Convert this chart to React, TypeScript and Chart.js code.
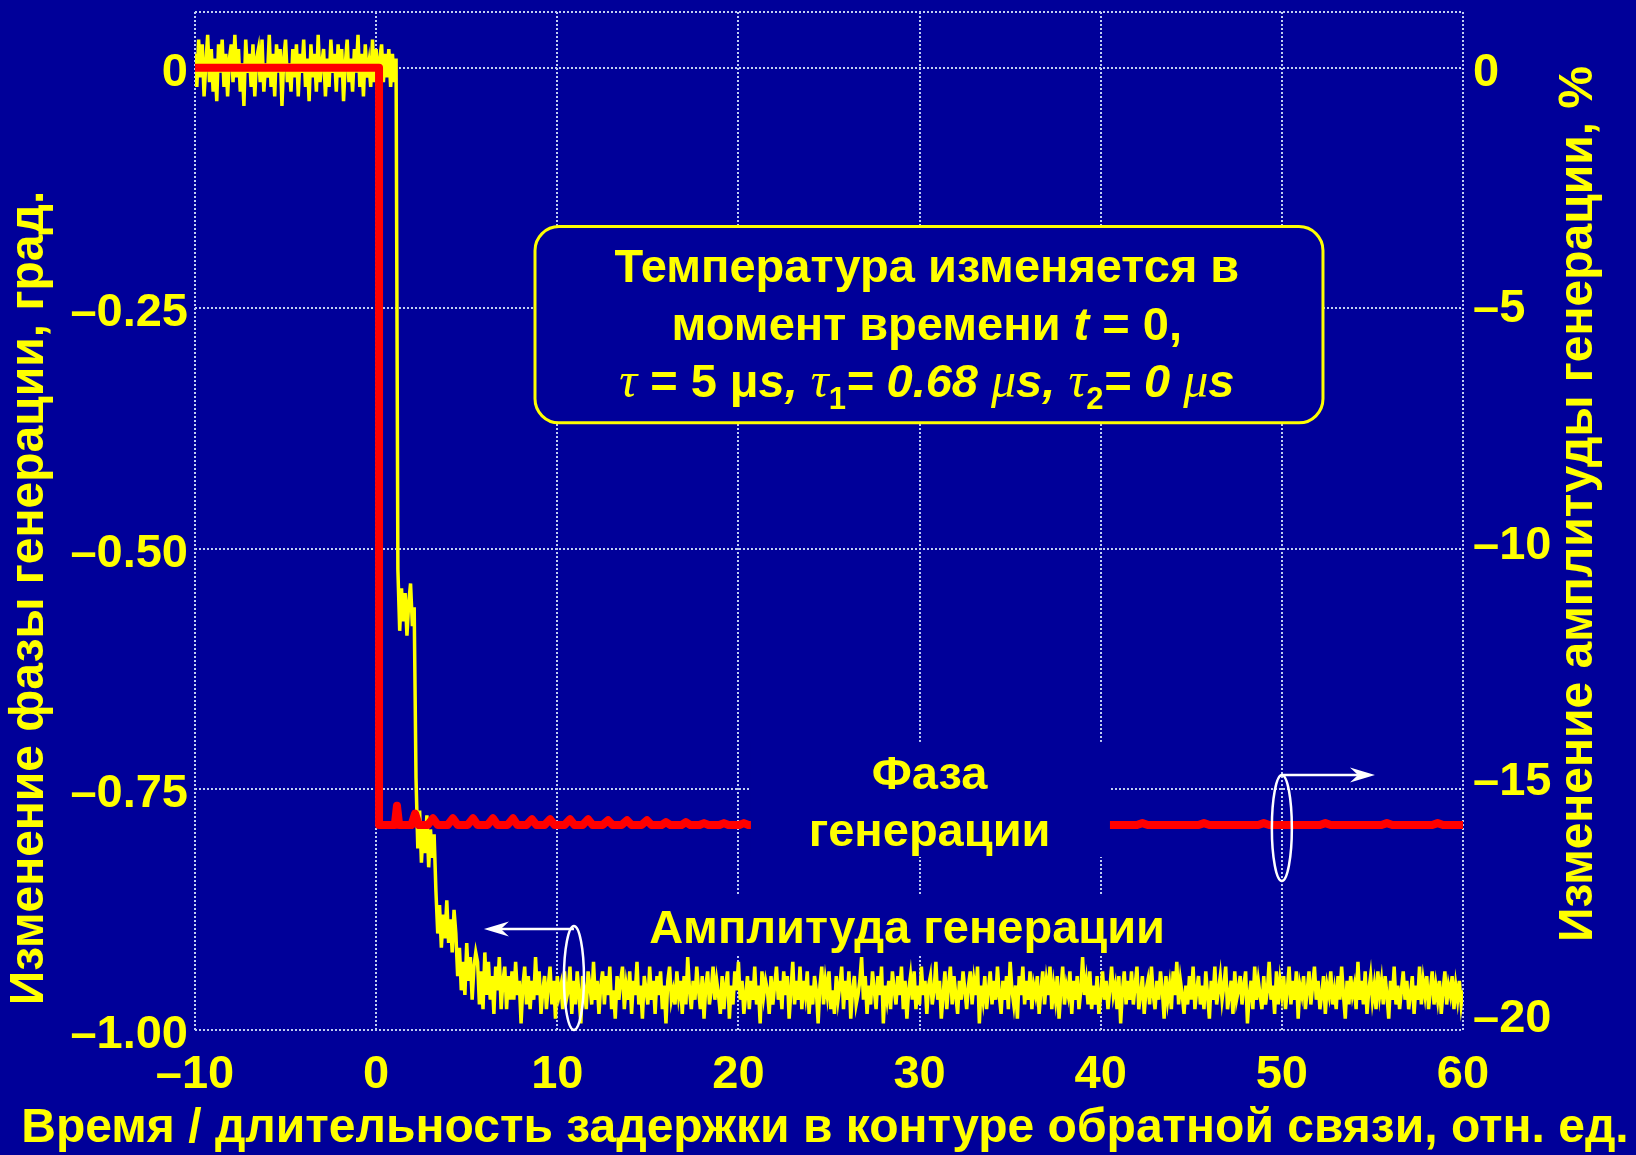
import React, { useEffect, useRef } from 'react';
import { Chart, registerables } from 'chart.js';

Chart.register(...registerables);

const W = 1636;
const H = 1155;

const BG = '#000099';
const YELLOW = '#ffff00';
const RED = '#ff0000';
const GRID = '#c0cdf0';
const WHITE = '#ffffff';

const SANS = '"Liberation Sans", Arial, Helvetica, sans-serif';
const SERIF = '"Liberation Serif", "Times New Roman", serif';

// ---- axes ----
const X_MIN = -10;
const X_MAX = 60;
const X_STEP = 10;
const PHASE_MIN = -1.0;
const PHASE_MAX = 0.058;
const PHASE_TICKS = [0, -0.25, -0.5, -0.75, -1.0];
const AMP_MIN = -20.34;
const AMP_MAX = 1.184;
const AMP_TICKS = [0, -5, -10, -15, -20];

const X_TITLE = 'Время / длительность задержки в контуре обратной связи, отн. ед.';
const Y_TITLE = 'Изменение фазы генерации, град.';
const Y2_TITLE = 'Изменение амплитуды генерации, %';

// ---- phase of the generated signal, grad (time, value) ----
const phaseTrace: [number, number][] = [
  [-10, 0], [0.16, 0], [0.16, -0.787], [1.03, -0.787], [1.15, -0.767], [1.27, -0.787],
  [1.95, -0.787], [2.15, -0.775], [2.35, -0.787],
  [2.85, -0.787], [3.14, -0.780], [3.4, -0.787],
  [3.95, -0.787], [4.24, -0.780], [4.5, -0.787],
  [5.05, -0.787], [5.35, -0.780], [5.6, -0.787],
  [6.15, -0.787], [6.45, -0.780], [6.7, -0.787],
  [7.25, -0.787], [7.56, -0.780], [7.8, -0.787],
  [8.3, -0.787], [8.6, -0.781], [8.85, -0.787],
  [9.3, -0.787], [9.6, -0.781], [9.85, -0.787],
  [10.4, -0.787], [10.7, -0.781], [10.95, -0.787],
  [11.4, -0.787], [11.7, -0.781], [11.95, -0.787],
  [12.5, -0.787], [12.8, -0.782], [13.05, -0.787],
  [13.55, -0.787], [13.85, -0.782], [14.1, -0.787],
  [14.65, -0.787], [14.95, -0.782], [15.2, -0.787],
  [15.75, -0.787], [16.0, -0.784], [16.25, -0.787],
  [16.85, -0.787], [17.1, -0.784], [17.35, -0.787],
  [17.85, -0.787], [18.1, -0.785], [18.35, -0.787],
  [18.95, -0.787], [19.2, -0.785], [19.45, -0.787],
  [20.05, -0.787], [20.3, -0.785], [20.55, -0.787],
  [42.0, -0.787], [42.3, -0.785], [42.6, -0.787],
  [45.4, -0.787], [45.7, -0.785], [46.0, -0.787],
  [48.7, -0.787], [49.0, -0.785], [49.3, -0.787],
  [52.1, -0.787], [52.4, -0.785], [52.7, -0.787],
  [55.5, -0.787], [55.8, -0.785], [56.1, -0.787],
  [58.3, -0.787], [58.6, -0.785], [58.9, -0.787],
  [60, -0.787],
];

// ---- amplitude of the generated signal, %, sampled every AMP_DT from AMP_T0 ----
const AMP_T0 = -10;
const AMP_DT = 0.1;

// t = -10.0 ... 1.1
const ampBefore = [
  0.3, -0.4, 0.6, -0.2, 0.5, -0.6, 0.1, 0.7, -0.3, 0.4,
  -0.5, 0.2, -0.7, 0.5, -0.1, 0.6, -0.4, 0.3, -0.6, 0.2,
  0.5, -0.3, 0.7, -0.2, 0.4, -0.5, 0.1, -0.8, 0.6, -0.1,
  0.3, -0.4, 0.5, -0.6, 0.2, 0.4, -0.3, 0.6, -0.5, 0.1,
  -0.2, 0.7, -0.4, 0.3, -0.6, 0.5, -0.1, 0.4, -0.8, 0.2,
  0.6, -0.3, 0.1, -0.5, 0.4, -0.2, 0.5, -0.6, 0.3, -0.1,
  0.6, -0.4, 0.2, -0.7, 0.5, -0.2, 0.3, -0.5, 0.7, -0.3,
  0.1, 0.4, -0.6, 0.2, -0.4, 0.6, -0.1, 0.3, -0.5, 0.5,
  -0.2, 0.4, -0.7, 0.1, 0.6, -0.3, 0.2, -0.5, 0.4, -0.1,
  0.7, -0.4, 0.3, -0.6, 0.5, -0.2, 0.1, -0.4, 0.6, -0.3,
  0.4, -0.5, 0.2, 0.5, -0.3, 0.3, -0.2, 0.4, -0.4, 0.3,
  -0.3, 0.2,
];
// t = 1.2 ... 2.1
const ampStep1 = [-10.6, -11.9, -11.0, -11.7, -11.1, -12.0, -11.3, -10.9, -11.8, -11.4];
// t = 2.2 ... 3.2
const ampStep2 = [-15.0, -16.5, -15.7, -16.8, -16.0, -16.6, -15.8, -16.9, -16.1, -16.7, -16.2];
// t = 3.3 ... 4.3
const ampStep3 = [-17.4, -18.3, -17.7, -18.6, -17.9, -18.4, -17.6, -18.5, -18.0, -18.7, -17.8];
// t = 4.4 ... 5.5
const ampStep4 = [-18.3, -19.2, -18.6, -19.5, -18.9, -19.6, -18.5, -19.3, -18.8, -19.7, -19.0, -18.7];
// t = 5.6 ... 60.0
const ampSettled = [
  -18.9, -19.8, -19.1, -19.9, -18.7, -19.6, -18.9, -19.7, -19.2, -20.0,
  -19.0, -19.5, -18.8, -19.9, -19.3, -19.0, -19.9, -19.2, -19.7, -19.1,
  -19.7, -18.9, -19.6, -19.3, -20.2, -19.4, -19.0, -19.8, -19.2, -19.9,
  -19.3, -19.7, -18.8, -19.6, -19.1, -20.0, -19.5, -19.2, -19.9, -19.4,
  -19.0, -19.8, -19.3, -20.1, -19.2, -19.6, -19.4, -19.9, -19.1, -19.7,
  -19.5, -19.0, -20.0, -19.3, -19.8, -19.1, -19.6, -20.2, -19.2, -19.5,
  -19.9, -19.1, -19.4, -19.8, -18.9, -19.7, -19.3, -20.0, -19.4, -19.1,
  -19.8, -19.2, -19.6, -19.0, -19.9, -19.5, -20.1, -19.2, -19.7, -19.3,
  -19.0, -19.9, -19.4, -19.7, -19.1, -20.0, -19.3, -19.6, -18.9, -19.8,
  -19.4, -20.1, -19.2, -19.5, -19.8, -19.0, -19.7, -19.3, -20.0, -19.2,
  -19.6, -19.1, -19.9, -19.4, -20.2, -19.3, -19.0, -19.7, -19.5, -19.8,
  -19.1, -19.6, -19.3, -20.0, -19.2, -19.8, -18.8, -19.5, -19.9, -19.3,
  -19.7, -19.0, -19.5, -19.9, -19.2, -20.1, -19.4, -19.1, -19.8, -19.5,
  -19.0, -19.7, -19.3, -19.6, -20.0, -19.2, -19.9, -19.4, -19.1, -20.1,
  -19.4, -19.8, -19.1, -19.5, -18.9, -19.7, -19.3, -20.0, -19.6, -19.2,
  -19.9, -19.3, -19.7, -19.0, -19.8, -19.4, -20.2, -19.1, -19.6, -19.3,
  -19.5, -20.0, -19.2, -19.8, -19.4, -19.0, -19.7, -19.3, -19.9, -19.1,
  -19.6, -19.2, -20.1, -19.5, -18.9, -19.8, -19.3, -19.7, -19.0, -19.9,
  -19.3, -19.6, -19.1, -20.0, -19.4, -19.8, -19.2, -19.5, -20.2, -19.4,
  -19.0, -19.8, -19.3, -19.6, -19.1, -19.9, -19.5, -20.0, -19.2, -19.7,
  -19.4, -19.0, -19.9, -19.3, -19.7, -19.1, -20.1, -19.5, -19.2, -19.8,
  -19.6, -19.3, -18.8, -19.7, -19.2, -20.0, -19.4, -19.8, -19.1, -19.5,
  -19.9, -19.2, -19.6, -19.0, -20.2, -19.4, -19.7, -19.3, -19.9, -19.1,
  -19.5, -19.8, -19.2, -19.6, -19.0, -19.9, -19.3, -20.1, -19.5, -19.2,
  -19.7, -19.1, -19.9, -19.4, -19.8, -19.0, -19.6, -19.3, -20.0, -19.4,
  -19.2, -19.8, -19.5, -18.9, -19.7, -19.3, -20.1, -19.6, -19.1, -19.9,
  -19.4, -19.0, -19.8, -19.2, -19.6, -20.0, -19.3, -19.7, -19.1, -19.5,
  -19.9, -19.4, -19.1, -19.8, -19.3, -19.6, -19.0, -20.2, -19.4, -19.7,
  -19.2, -19.9, -19.5, -19.1, -19.8, -19.3, -19.7, -19.0, -19.6, -20.0,
  -19.3, -19.7, -19.2, -19.9, -18.9, -19.5, -19.8, -19.4, -20.1, -19.2,
  -19.6, -19.0, -19.8, -19.3, -19.7, -19.1, -19.9, -19.4, -19.6, -19.2,
  -20.0, -19.5, -19.1, -19.8, -19.3, -19.6, -19.0, -19.9, -19.4, -19.7,
  -19.2, -20.1, -19.5, -19.0, -19.8, -19.4, -19.6, -19.1, -20.0, -19.3,
  -19.7, -19.2, -19.9, -19.5, -18.8, -19.6, -19.3, -19.8, -19.1, -19.9,
  -19.4, -19.8, -19.2, -20.0, -19.6, -19.1, -19.7, -19.3, -19.9, -19.5,
  -19.0, -19.6, -19.4, -19.9, -19.2, -20.2, -19.5, -19.1, -19.8, -19.3,
  -19.7, -19.1, -19.8, -19.4, -19.0, -19.9, -19.6, -19.2, -20.0, -19.5,
  -19.3, -19.8, -19.0, -19.6, -19.9, -19.3, -19.7, -19.1, -19.5, -20.1,
  -19.2, -19.7, -19.4, -19.9, -19.1, -19.6, -18.9, -19.8, -19.3, -19.6,
  -20.0, -19.4, -19.8, -19.2, -19.7, -19.0, -19.9, -19.5, -19.2, -19.8,
  -19.4, -19.9, -19.1, -19.6, -20.1, -19.3, -19.7, -19.0, -19.8, -19.5,
  -19.2, -19.7, -19.4, -19.0, -19.9, -19.6, -19.3, -20.0, -19.1, -19.7,
  -19.5, -19.2, -19.8, -19.4, -19.1, -20.2, -19.6, -19.3, -19.9, -19.0,
  -19.7, -19.3, -19.6, -19.9, -19.2, -19.8, -19.5, -18.9, -19.7, -19.4,
  -20.0, -19.1, -19.8, -19.3, -19.6, -19.2, -19.9, -19.5, -19.0, -19.8,
  -19.3, -19.7, -19.1, -20.1, -19.4, -19.6, -19.2, -19.9, -19.5, -19.1,
  -19.8, -19.4, -19.0, -19.7, -19.3, -19.9, -19.6, -19.2, -20.0, -19.4,
  -19.6, -19.1, -19.8, -19.5, -19.9, -19.2, -19.7, -19.0, -19.6, -20.1,
  -19.3, -19.8, -19.2, -19.6, -19.4, -19.9, -18.9, -19.7, -19.3, -19.8,
  -19.1, -20.0, -19.5, -19.2, -19.7, -19.4, -19.9, -19.1, -19.6, -19.3,
  -19.8, -19.2, -19.6, -20.1, -19.3, -19.7, -19.0, -19.8, -19.4, -19.9,
  -19.5, -19.1, -19.7, -19.3, -19.9, -19.6, -19.2, -20.0, -19.4, -19.7,
  -19.0, -19.8, -19.3, -19.6, -19.2, -19.9, -19.5, -19.1, -19.8, -19.4,
  -19.7, -19.3, -20.0, -19.5, -19.1, -19.8, -19.4, -19.6, -19.2, -19.9,
  -19.4, -19.7, -19.3, -19.8, -19.5,
];

const ampValues = [...ampBefore, ...ampStep1, ...ampStep2, ...ampStep3, ...ampStep4, ...ampSettled];

// ---- annotations, placed in data units (time, phase) ----
const NOTE_BOX = { t0: 8.77, t1: 52.27, v0: -0.165, v1: -0.369 };
const NOTE_T = 30.4;
const NOTE_BASELINES = [-0.2225, -0.2827, -0.342];
const PHASE_BOX = { t0: 20.69, t1: 40.51, v0: -0.7006, v1: -0.8202 };
const PHASE_LABEL = { t: 30.55, lines: ['Фаза', 'генерации'], baselines: [-0.7495, -0.8087] };
const AMP_BOX = { t0: 14.57, t1: 44.1, v0: -0.8597, v1: -0.921 };
const AMP_LABEL = { t: 29.31, text: 'Амплитуда генерации', baseline: -0.9096 };
const AMP_MARK = { t: 10.92, v: -0.946, arrowV: -0.895, arrowTip: 5.95 };
const PHASE_MARK = { t: 50.0, v: -0.79, arrowV: -0.735, arrowTip: 55.14 };

const FONT_SIZE = 47;
const TITLE_SIZE = 48;
const fSans = (size: number, style = 'bold') => `${style} ${size}px ${SANS}`;
const fSerif = (size: number, style = 'italic') => `${style} ${size}px ${SERIF}`;

const dash = (v: number) => (v < 0 ? '\u2013' : '');

type Run = { text: string; font: string; dy?: number };

function drawRuns(ctx: CanvasRenderingContext2D, runs: Run[], cx: number, baseline: number) {
  const widths = runs.map((r) => {
    ctx.font = r.font;
    return ctx.measureText(r.text).width;
  });
  const total = widths.reduce((a, b) => a + b, 0);
  let x = cx - total / 2;
  runs.forEach((r, i) => {
    ctx.font = r.font;
    ctx.fillText(r.text, x, baseline + (r.dy || 0));
    x += widths[i];
  });
}

function roundRect(ctx: CanvasRenderingContext2D, x0: number, y0: number, x1: number, y1: number, r: number) {
  ctx.beginPath();
  ctx.moveTo(x0 + r, y0);
  ctx.arcTo(x1, y0, x1, y1, r);
  ctx.arcTo(x1, y1, x0, y1, r);
  ctx.arcTo(x0, y1, x0, y0, r);
  ctx.arcTo(x0, y0, x1, y0, r);
  ctx.closePath();
}

function arrow(ctx: CanvasRenderingContext2D, x0: number, y: number, tipX: number) {
  const d = Math.sign(tipX - x0);
  const len = 25;
  const half = 7.5;
  const notch = 17;
  ctx.beginPath();
  ctx.moveTo(x0, y);
  ctx.lineTo(tipX - d * notch, y);
  ctx.stroke();
  ctx.beginPath();
  ctx.moveTo(tipX, y);
  ctx.lineTo(tipX - d * len, y - half);
  ctx.lineTo(tipX - d * notch, y);
  ctx.lineTo(tipX - d * len, y + half);
  ctx.closePath();
  ctx.fill();
}

function titleText(ctx: CanvasRenderingContext2D, text: string, cx: number, cy: number, rotated: boolean) {
  ctx.save();
  ctx.translate(cx, cy);
  if (rotated) ctx.rotate(-Math.PI / 2);
  ctx.font = fSans(TITLE_SIZE);
  ctx.textAlign = 'center';
  ctx.textBaseline = 'middle';
  ctx.fillStyle = YELLOW;
  ctx.fillText(text, 0, 0);
  ctx.restore();
}

const decorations = {
  id: 'decorations',
  beforeDraw(chart: any) {
    const { ctx, width, height } = chart;
    ctx.save();
    ctx.fillStyle = BG;
    ctx.fillRect(0, 0, width, height);
    ctx.restore();
  },
  beforeDatasetsDraw(chart: any) {
    const { ctx, scales } = chart;
    const px = (t: number) => scales.x.getPixelForValue(t);
    const py = (v: number) => scales.y.getPixelForValue(v);
    ctx.save();
    ctx.fillStyle = BG;
    ctx.fillRect(px(AMP_BOX.t0), py(AMP_BOX.v0), px(AMP_BOX.t1) - px(AMP_BOX.t0), py(AMP_BOX.v1) - py(AMP_BOX.v0));
    ctx.restore();
  },
  afterDatasetsDraw(chart: any) {
    const { ctx, scales } = chart;
    const px = (t: number) => scales.x.getPixelForValue(t);
    const py = (v: number) => scales.y.getPixelForValue(v);
    ctx.save();

    // label panel over the phase trace
    ctx.fillStyle = BG;
    ctx.fillRect(px(PHASE_BOX.t0), py(PHASE_BOX.v0), px(PHASE_BOX.t1) - px(PHASE_BOX.t0), py(PHASE_BOX.v1) - py(PHASE_BOX.v0));

    // note box
    roundRect(ctx, px(NOTE_BOX.t0), py(NOTE_BOX.v0), px(NOTE_BOX.t1), py(NOTE_BOX.v1), 24);
    ctx.fillStyle = BG;
    ctx.fill();
    ctx.lineWidth = 3;
    ctx.strokeStyle = YELLOW;
    ctx.stroke();

    ctx.fillStyle = YELLOW;
    ctx.textAlign = 'left';
    ctx.textBaseline = 'alphabetic';
    const cx = px(NOTE_T);
    const bold = fSans(FONT_SIZE);
    const boldIt = fSans(FONT_SIZE, 'italic bold');
    const greek = fSerif(FONT_SIZE + 3);
    const sub = fSans(31);
    drawRuns(ctx, [{ text: 'Температура изменяется в', font: bold }], cx, py(NOTE_BASELINES[0]));
    drawRuns(
      ctx,
      [
        { text: 'момент времени ', font: bold },
        { text: 't', font: boldIt },
        { text: ' = 0,', font: bold },
      ],
      cx,
      py(NOTE_BASELINES[1])
    );
    drawRuns(
      ctx,
      [
        { text: '\u03C4', font: greek },
        { text: ' = 5 ', font: bold },
        { text: '\u03BC', font: bold },
        { text: 's, ', font: boldIt },
        { text: '\u03C4', font: greek },
        { text: '1', font: sub, dy: 12 },
        { text: '= 0.68 ', font: boldIt },
        { text: '\u03BC', font: greek },
        { text: 's, ', font: boldIt },
        { text: '\u03C4', font: greek },
        { text: '2', font: sub, dy: 12 },
        { text: '= 0 ', font: boldIt },
        { text: '\u03BC', font: greek },
        { text: 's', font: boldIt },
      ],
      cx,
      py(NOTE_BASELINES[2])
    );

    // trace labels
    ctx.textAlign = 'center';
    ctx.font = bold;
    PHASE_LABEL.lines.forEach((line, i) => ctx.fillText(line, px(PHASE_LABEL.t), py(PHASE_LABEL.baselines[i])));
    ctx.fillText(AMP_LABEL.text, px(AMP_LABEL.t), py(AMP_LABEL.baseline));

    // axis pointers
    ctx.strokeStyle = WHITE;
    ctx.fillStyle = WHITE;
    ctx.lineWidth = 2.5;
    const marks = [
      { m: AMP_MARK, ry: 52 },
      { m: PHASE_MARK, ry: 53 },
    ];
    marks.forEach(({ m, ry }) => {
      const ex = px(m.t);
      const ey = py(m.v);
      ctx.beginPath();
      ctx.ellipse(ex, ey, 10, ry, 0, 0, Math.PI * 2);
      ctx.stroke();
      arrow(ctx, ex, py(m.arrowV), px(m.arrowTip));
    });
    ctx.restore();
  },
  afterDraw(chart: any) {
    const { ctx } = chart;
    titleText(ctx, Y_TITLE, 30, 598, true);
    titleText(ctx, Y2_TITLE, 1579, 504, true);
    titleText(ctx, X_TITLE, 825, 1129, false);
  },
};

export default function App() {
  const canvasRef = useRef<HTMLCanvasElement | null>(null);

  useEffect(() => {
    document.body.style.margin = '0';
    document.body.style.background = BG;
    const canvas = canvasRef.current;
    if (!canvas) return;

    const phasePoints = phaseTrace.map(([t, v]) => ({ x: t, y: v }));
    const ampPoints = ampValues.map((v, i) => ({ x: AMP_T0 + i * AMP_DT, y: v }));

    const tickFont = { family: SANS, size: FONT_SIZE, weight: 'bold' as const, lineHeight: 1.2 };

    const chart = new Chart(canvas, {
      type: 'line',
      data: {
        datasets: [
          {
            label: 'Фаза генерации',
            data: phasePoints,
            yAxisID: 'y',
            borderColor: RED,
            borderWidth: 8,
            borderCapStyle: 'round',
            borderJoinStyle: 'round',
            pointRadius: 0,
            tension: 0,
          },
          {
            label: 'Амплитуда генерации',
            data: ampPoints,
            yAxisID: 'y2',
            borderColor: YELLOW,
            borderWidth: 3.5,
            pointRadius: 0,
            tension: 0,
          },
        ],
      },
      options: {
        responsive: false,
        animation: false,
        devicePixelRatio: 1,
        events: [],
        layout: { padding: { top: 12, left: 0, right: 0, bottom: 0 } },
        plugins: { legend: { display: false }, tooltip: { enabled: false } },
        scales: {
          x: {
            type: 'linear',
            min: X_MIN,
            max: X_MAX,
            ticks: {
              stepSize: X_STEP,
              color: YELLOW,
              font: tickFont,
              padding: 17,
              maxRotation: 0,
              callback: (v: any) => dash(v) + Math.abs(v),
            },
            grid: { color: GRID, lineWidth: 2, drawTicks: false },
            border: { display: false, dash: [2, 2] },
            title: { display: false },
            afterFit: (s: any) => {
              s.height = 125;
              s.paddingLeft = 0;
              s.paddingRight = 0;
            },
          },
          y: {
            type: 'linear',
            position: 'left',
            min: PHASE_MIN,
            max: PHASE_MAX,
            afterBuildTicks: (s: any) => {
              s.ticks = [PHASE_MAX, ...PHASE_TICKS].map((value) => ({ value }));
            },
            ticks: {
              color: YELLOW,
              font: tickFont,
              padding: 7,
              labelOffset: 5,
              callback: (v: any) => (v > 0.001 ? '' : v === 0 ? '0' : dash(v) + Math.abs(v).toFixed(2)),
            },
            grid: { color: GRID, lineWidth: 2, drawTicks: false },
            border: { display: false, dash: [2, 2] },
            afterFit: (s: any) => {
              s.width = 195;
              s.paddingTop = 0;
              s.paddingBottom = 0;
            },
          },
          y2: {
            type: 'linear',
            position: 'right',
            min: AMP_MIN,
            max: AMP_MAX,
            afterBuildTicks: (s: any) => {
              s.ticks = AMP_TICKS.map((value) => ({ value }));
            },
            ticks: {
              color: YELLOW,
              font: tickFont,
              padding: 10,
              labelOffset: 5,
              callback: (v: any) => dash(v) + Math.abs(v),
            },
            grid: { display: false, drawTicks: false },
            border: { display: false },
            afterFit: (s: any) => {
              s.width = 173;
              s.paddingTop = 0;
              s.paddingBottom = 0;
            },
          },
        },
      },
      plugins: [decorations],
    } as any);

    return () => chart.destroy();
  }, []);

  return (
    <div style={{ position: 'fixed', left: 0, top: 0, width: W, height: H, overflow: 'hidden', background: BG }}>
      <canvas ref={canvasRef} width={W} height={H} style={{ display: 'block', width: W, height: H }} />
    </div>
  );
}
